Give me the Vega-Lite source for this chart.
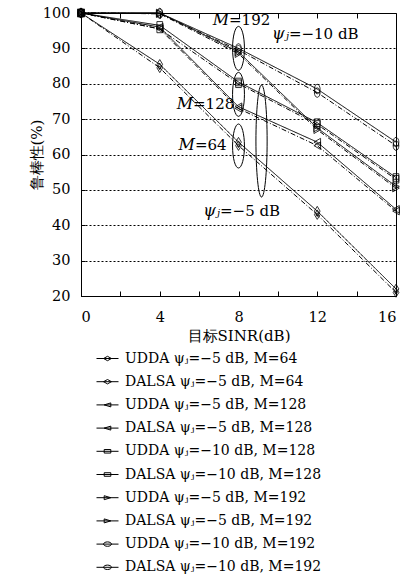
{
  "$schema": "https://vega.github.io/schema/vega-lite/v6.json",
  "width": 315,
  "height": 283,
  "autosize": {"type": "none"},
  "padding": {"left": 81, "top": 13, "right": 15, "bottom": 280},
  "datasets": {
    "curves": [
      {"s": "UDDA ψⱼ=−5 dB, M=64", "x": 0, "y": 100}, {"s": "UDDA ψⱼ=−5 dB, M=64", "x": 4, "y": 85.5}, {"s": "UDDA ψⱼ=−5 dB, M=64", "x": 8, "y": 63.5}, {"s": "UDDA ψⱼ=−5 dB, M=64", "x": 12, "y": 44}, {"s": "UDDA ψⱼ=−5 dB, M=64", "x": 16, "y": 22},
      {"s": "DALSA ψⱼ=−5 dB, M=64", "x": 0, "y": 100}, {"s": "DALSA ψⱼ=−5 dB, M=64", "x": 4, "y": 84.5}, {"s": "DALSA ψⱼ=−5 dB, M=64", "x": 8, "y": 62.5}, {"s": "DALSA ψⱼ=−5 dB, M=64", "x": 12, "y": 43}, {"s": "DALSA ψⱼ=−5 dB, M=64", "x": 16, "y": 21},
      {"s": "UDDA ψⱼ=−5 dB, M=128", "x": 0, "y": 100}, {"s": "UDDA ψⱼ=−5 dB, M=128", "x": 4, "y": 96}, {"s": "UDDA ψⱼ=−5 dB, M=128", "x": 8, "y": 73.5}, {"s": "UDDA ψⱼ=−5 dB, M=128", "x": 12, "y": 63.5}, {"s": "UDDA ψⱼ=−5 dB, M=128", "x": 16, "y": 44.5},
      {"s": "DALSA ψⱼ=−5 dB, M=128", "x": 0, "y": 100}, {"s": "DALSA ψⱼ=−5 dB, M=128", "x": 4, "y": 95.5}, {"s": "DALSA ψⱼ=−5 dB, M=128", "x": 8, "y": 73}, {"s": "DALSA ψⱼ=−5 dB, M=128", "x": 12, "y": 62.5}, {"s": "DALSA ψⱼ=−5 dB, M=128", "x": 16, "y": 44},
      {"s": "UDDA ψⱼ=−10 dB, M=128", "x": 0, "y": 100}, {"s": "UDDA ψⱼ=−10 dB, M=128", "x": 4, "y": 96.5}, {"s": "UDDA ψⱼ=−10 dB, M=128", "x": 8, "y": 80.5}, {"s": "UDDA ψⱼ=−10 dB, M=128", "x": 12, "y": 69}, {"s": "UDDA ψⱼ=−10 dB, M=128", "x": 16, "y": 53.5},
      {"s": "DALSA ψⱼ=−10 dB, M=128", "x": 0, "y": 100}, {"s": "DALSA ψⱼ=−10 dB, M=128", "x": 4, "y": 95.5}, {"s": "DALSA ψⱼ=−10 dB, M=128", "x": 8, "y": 80}, {"s": "DALSA ψⱼ=−10 dB, M=128", "x": 12, "y": 68.5}, {"s": "DALSA ψⱼ=−10 dB, M=128", "x": 16, "y": 53},
      {"s": "UDDA ψⱼ=−5 dB, M=192", "x": 0, "y": 100}, {"s": "UDDA ψⱼ=−5 dB, M=192", "x": 4, "y": 100}, {"s": "UDDA ψⱼ=−5 dB, M=192", "x": 8, "y": 89}, {"s": "UDDA ψⱼ=−5 dB, M=192", "x": 12, "y": 67.5}, {"s": "UDDA ψⱼ=−5 dB, M=192", "x": 16, "y": 51},
      {"s": "DALSA ψⱼ=−5 dB, M=192", "x": 0, "y": 100}, {"s": "DALSA ψⱼ=−5 dB, M=192", "x": 4, "y": 99.8}, {"s": "DALSA ψⱼ=−5 dB, M=192", "x": 8, "y": 88.5}, {"s": "DALSA ψⱼ=−5 dB, M=192", "x": 12, "y": 67}, {"s": "DALSA ψⱼ=−5 dB, M=192", "x": 16, "y": 50.5},
      {"s": "UDDA ψⱼ=−10 dB, M=192", "x": 0, "y": 100}, {"s": "UDDA ψⱼ=−10 dB, M=192", "x": 4, "y": 100}, {"s": "UDDA ψⱼ=−10 dB, M=192", "x": 8, "y": 90}, {"s": "UDDA ψⱼ=−10 dB, M=192", "x": 12, "y": 78.5}, {"s": "UDDA ψⱼ=−10 dB, M=192", "x": 16, "y": 63.5},
      {"s": "DALSA ψⱼ=−10 dB, M=192", "x": 0, "y": 100}, {"s": "DALSA ψⱼ=−10 dB, M=192", "x": 4, "y": 99.8}, {"s": "DALSA ψⱼ=−10 dB, M=192", "x": 8, "y": 89.5}, {"s": "DALSA ψⱼ=−10 dB, M=192", "x": 12, "y": 77.5}, {"s": "DALSA ψⱼ=−10 dB, M=192", "x": 16, "y": 62.5}
    ],
    "ellSmall": [{"x": 8, "y": 90}, {"x": 8, "y": 77}, {"x": 8, "y": 62.4}],
    "ellBig": [{"x": 9.17, "y": 63.8}],
    "notes": [
      {"x": 7.52, "y": 98, "it": "M", "rest": "=192"},
      {"x": 10.56, "y": 94.1, "it": "ψⱼ", "rest": "=−10 dB"},
      {"x": 5.69, "y": 74.3, "it": "M", "rest": "=128"},
      {"x": 5.79, "y": 62.7, "it": "M", "rest": "=64"},
      {"x": 7.06, "y": 44.0, "it": "ψⱼ", "rest": "=−5 dB"}
    ]
  },
  "layer": [
    {
      "data": {"name": "curves"},
      "mark": {"type": "line", "color": "black", "strokeWidth": 1},
      "encoding": {
        "x": {"field": "x", "type": "quantitative", "scale": {"domain": [0, 16], "nice": false, "zero": false},
          "axis": {"orient": "bottom", "title": "目标SINR(dB)", "values": [0, 2, 4, 6, 8, 10, 12, 14, 16], "labelExpr": "datum.value % 4 == 0 ? datum.label : ''", "tickSize": -5, "grid": false, "labelPadding": 19, "titlePadding": 5}},
        "y": {"field": "y", "type": "quantitative", "scale": {"domain": [20, 100], "nice": false, "zero": false},
          "axis": {"orient": "left", "title": "鲁棒性(%)", "values": [20, 30, 40, 50, 60, 70, 80, 90, 100], "tickSize": -4, "grid": true, "gridColor": "black", "gridDash": [2, 2], "gridOpacity": 1, "gridWidth": 1, "labelPadding": 15, "titlePadding": -2}},
        "detail": {"field": "s"},
        "strokeDash": {"field": "s", "type": "nominal", "legend": null,
          "scale": {"domain": ["UDDA ψⱼ=−5 dB, M=64", "DALSA ψⱼ=−5 dB, M=64", "UDDA ψⱼ=−5 dB, M=128", "DALSA ψⱼ=−5 dB, M=128", "UDDA ψⱼ=−10 dB, M=128", "DALSA ψⱼ=−10 dB, M=128", "UDDA ψⱼ=−5 dB, M=192", "DALSA ψⱼ=−5 dB, M=192", "UDDA ψⱼ=−10 dB, M=192", "DALSA ψⱼ=−10 dB, M=192"],
            "range": [[1, 0], [5, 2, 1, 2], [1, 0], [5, 2, 1, 2], [1, 0], [5, 2, 1, 2], [1, 0], [5, 2, 1, 2], [1, 0], [5, 2, 1, 2]]}}
      }
    },
    {
      "data": {"name": "curves"},
      "mark": {"type": "point", "filled": false, "stroke": "black", "strokeWidth": 0.8, "size": 90, "opacity": 1},
      "encoding": {
        "x": {"field": "x", "type": "quantitative", "scale": {"domain": [0, 16], "nice": false, "zero": false}, "axis": null},
        "y": {"field": "y", "type": "quantitative", "scale": {"domain": [20, 100], "nice": false, "zero": false}, "axis": null},
        "shape": {"field": "s", "type": "nominal", "legend": null,
          "scale": {"domain": ["UDDA ψⱼ=−5 dB, M=64", "DALSA ψⱼ=−5 dB, M=64", "UDDA ψⱼ=−5 dB, M=128", "DALSA ψⱼ=−5 dB, M=128", "UDDA ψⱼ=−10 dB, M=128", "DALSA ψⱼ=−10 dB, M=128", "UDDA ψⱼ=−5 dB, M=192", "DALSA ψⱼ=−5 dB, M=192", "UDDA ψⱼ=−10 dB, M=192", "DALSA ψⱼ=−10 dB, M=192"],
            "range": [
              "M0,-1L0.6,0L0,1L-0.6,0Z",
              "M0,-1L0.6,0L0,1L-0.6,0ZM0,-0.4L0.25,0L0,0.4L-0.25,0Z",
              "M-0.7,0L0.7,-0.8L0.7,0.8Z",
              "M-0.7,0L0.7,-0.8L0.7,0.8Z",
              "M-0.6,-0.8H0.6V0.8H-0.6Z",
              "M-0.6,-0.8H0.6V0.8H-0.6ZM-0.6,0H0.6",
              "M0.7,0L-0.7,-0.8L-0.7,0.8Z",
              "M0.7,0L-0.7,-0.8L-0.7,0.8Z",
              "M0,-1A0.6,1,0,1,1,0,1A0.6,1,0,1,1,0,-1Z",
              "M0,-1A0.6,1,0,1,1,0,1A0.6,1,0,1,1,0,-1ZM-0.6,0H0.6"
            ]}}
      }
    },
    {
      "data": {"name": "ellSmall"},
      "mark": {"type": "point", "filled": false, "stroke": "black", "strokeWidth": 1, "size": 1936, "opacity": 1, "shape": "M0,-1A0.27,1,0,1,1,0,1A0.27,1,0,1,1,0,-1Z"},
      "encoding": {
        "x": {"field": "x", "type": "quantitative", "scale": {"domain": [0, 16], "nice": false, "zero": false}, "axis": null},
        "y": {"field": "y", "type": "quantitative", "scale": {"domain": [20, 100], "nice": false, "zero": false}, "axis": null}
      }
    },
    {
      "data": {"name": "ellBig"},
      "mark": {"type": "point", "filled": false, "stroke": "black", "strokeWidth": 1, "size": 12544, "opacity": 1, "shape": "M0,-1A0.1,1,0,1,1,0,1A0.1,1,0,1,1,0,-1Z"},
      "encoding": {
        "x": {"field": "x", "type": "quantitative", "scale": {"domain": [0, 16], "nice": false, "zero": false}, "axis": null},
        "y": {"field": "y", "type": "quantitative", "scale": {"domain": [20, 100], "nice": false, "zero": false}, "axis": null}
      }
    },
    {
      "data": {"name": "notes"},
      "mark": {"type": "text", "align": "right", "baseline": "middle", "fontSize": 16, "fontStyle": "italic", "color": "black", "font": "DejaVu Serif"},
      "encoding": {
        "x": {"field": "x", "type": "quantitative", "scale": {"domain": [0, 16], "nice": false, "zero": false}, "axis": null},
        "y": {"field": "y", "type": "quantitative", "scale": {"domain": [20, 100], "nice": false, "zero": false}, "axis": null},
        "text": {"field": "it"}
      }
    },
    {
      "data": {"name": "notes"},
      "mark": {"type": "text", "align": "left", "baseline": "middle", "fontSize": 15, "color": "black", "font": "DejaVu Serif"},
      "encoding": {
        "x": {"field": "x", "type": "quantitative", "scale": {"domain": [0, 16], "nice": false, "zero": false}, "axis": null},
        "y": {"field": "y", "type": "quantitative", "scale": {"domain": [20, 100], "nice": false, "zero": false}, "axis": null},
        "text": {"field": "rest"}
      }
    },
    {
      "data": {"name": "curves"},
      "transform": [{"filter": "false"}],
      "mark": {"type": "point", "filled": false, "stroke": "black", "strokeWidth": 1, "opacity": 1},
      "encoding": {
        "x": {"field": "x", "type": "quantitative", "scale": {"domain": [0, 16], "nice": false, "zero": false},
          "axis": {"orient": "top", "title": null, "labels": false, "domain": false, "values": [0, 2, 4, 6, 8, 10, 12, 14, 16], "tickSize": -5, "grid": false}},
        "y": {"field": "y", "type": "quantitative", "scale": {"domain": [20, 100], "nice": false, "zero": false}, "axis": null},
        "shape": {"field": "s", "type": "nominal",
          "scale": {"domain": ["UDDA ψⱼ=−5 dB, M=64", "DALSA ψⱼ=−5 dB, M=64", "UDDA ψⱼ=−5 dB, M=128", "DALSA ψⱼ=−5 dB, M=128", "UDDA ψⱼ=−10 dB, M=128", "DALSA ψⱼ=−10 dB, M=128", "UDDA ψⱼ=−5 dB, M=192", "DALSA ψⱼ=−5 dB, M=192", "UDDA ψⱼ=−10 dB, M=192", "DALSA ψⱼ=−10 dB, M=192"],
            "range": [
              "M-1,0H1M-0.36,0L0,-0.2L0.36,0L0,0.2Z",
              "M-1,0H1M-0.36,0L0,-0.2L0.36,0L0,0.2Z",
              "M-1,0H1M-0.3,0L0.3,-0.18L0.3,0.18Z",
              "M-1,0H1M-0.3,0L0.3,-0.18L0.3,0.18Z",
              "M-1,0H1M-0.3,-0.16H0.3V0.16H-0.3Z",
              "M-1,0H1M-0.3,-0.16H0.3V0.16H-0.3Z",
              "M-1,0H1M0.3,0L-0.3,-0.18L-0.3,0.18Z",
              "M-1,0H1M0.3,0L-0.3,-0.18L-0.3,0.18Z",
              "M-1,0H1M-0.36,0A0.36,0.2,0,1,1,0.36,0A0.36,0.2,0,1,1,-0.36,0Z",
              "M-1,0H1M-0.36,0A0.36,0.2,0,1,1,0.36,0A0.36,0.2,0,1,1,-0.36,0Z"
            ]},
          "legend": {
            "title": null, "orient": "bottom", "direction": "vertical", "columns": 1,
            "symbolSize": 484, "symbolStrokeColor": "black", "symbolStrokeWidth": 1, "symbolOpacity": 1,
            "labelFontSize": 14, "labelColor": "black", "labelLimit": 0, "labelOffset": 6, "labelFont": "DejaVu Serif",
            "rowPadding": 4.2, "offset": -12, "padding": 15,
            "encode": {"symbols": {"update": {"strokeDash": {"signal": "indexof(datum.value, 'DALSA') == 0 ? [1.5, 1.5] : [1, 0]"}, "opacity": {"value": 1}}}}
          }}
      }
    }
  ],
  "resolve": {"scale": {"shape": "independent"}, "axis": {"x": "independent", "y": "independent"}},
  "config": {
    "font": "DejaVu Serif",
    "view": {"stroke": "black", "strokeWidth": 1},
    "axis": {
      "labelFontSize": 14.5, "labelColor": "black", "labelFont": "DejaVu Serif",
      "titleFontSize": 15, "titleFontWeight": "normal", "titleColor": "black", "titleFont": "DejaVu Serif",
      "domainColor": "black", "tickColor": "black"
    },
    "legend": {"layout": {"bottom": {"anchor": "start"}}}
  }
}
